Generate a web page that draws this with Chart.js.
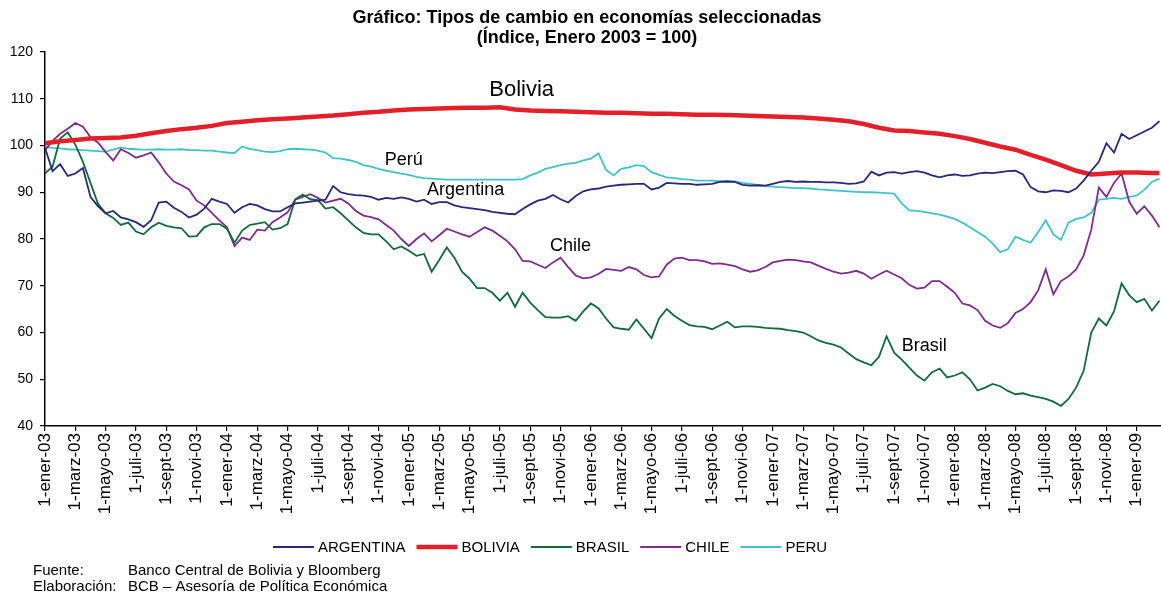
<!DOCTYPE html>
<html>
<head>
<meta charset="utf-8">
<script src="https://cdn.jsdelivr.net/npm/chart.js@4.4.1/dist/chart.umd.min.js"></script>
<style>
  body { margin: 0; background: #fff; }
  canvas { display: block; }
</style>
</head>
<body>
<canvas id="tcChart" width="1161" height="594"></canvas>
<script>
// x = months since 1-ener-03
const halfMonths = Array.from({ length: 148 }, (_, i) => i / 2);
const months = Array.from({ length: 74 }, (_, i) => i).concat([73.5]);

const monthNames = ['ener', 'febr', 'marz', 'abri', 'mayo', 'juni', 'juli', 'agos', 'sept', 'octu', 'novi', 'dici'];

// valores (cada quincena)
const argentina = [
  99.5, 94.5, 96.0, 93.5, 94.0, 95.2, 89.0, 87.0, 85.5, 86.0,
  84.6, 84.2, 83.6, 82.6, 84.0, 87.8, 88.0, 86.7, 85.8, 84.6,
  85.2, 86.5, 88.6, 88.0, 87.5, 85.6, 86.8, 87.5, 87.2, 86.4,
  85.9, 85.9, 86.8, 87.6, 87.8, 88.0, 88.2, 88.4, 91.3, 90.0,
  89.6, 89.4, 89.3, 89.0, 88.4, 88.8, 88.6, 88.9, 88.6, 88.0,
  88.4, 87.5, 87.9, 87.9, 87.2, 86.8, 86.6, 86.4, 86.2, 85.8,
  85.6, 85.4, 85.3, 86.4, 87.4, 88.2, 88.6, 89.4, 88.5, 87.8,
  89.2, 90.2, 90.6, 90.8, 91.2, 91.4, 91.6, 91.7, 91.8, 91.8,
  90.6, 91.0, 92.0, 91.9, 91.8, 91.8, 91.6, 91.7, 91.8, 92.2,
  92.3, 92.2, 91.6, 91.4, 91.5, 91.4, 91.8, 92.2, 92.4, 92.2,
  92.3, 92.2, 92.2, 92.1, 92.1, 92.0, 91.8, 91.9, 92.3, 94.4,
  93.6, 94.2, 94.3, 94.0, 94.3, 94.5, 94.2, 93.6, 93.2, 93.6,
  93.8, 93.5, 93.6, 94.0, 94.2, 94.1, 94.3, 94.5, 94.6, 93.8,
  91.1, 90.2, 90.0, 90.4, 90.3, 90.0, 90.8, 92.5, 94.6, 96.5,
  100.5, 98.5, 102.5, 101.4, 102.2, 103.0, 103.8, 105.2
];

const brasil = [
  94.0, 95.5, 101.5, 102.8, 100.2, 96.5, 92.0, 87.5, 85.5, 84.5,
  83.0, 83.5, 81.6, 81.0, 82.5, 83.5, 82.8, 82.5, 82.3, 80.5,
  80.6, 82.5, 83.2, 83.2, 82.2, 79.2, 81.8, 83.0, 83.3, 83.6,
  82.0, 82.3, 83.2, 88.5, 89.5, 88.5, 88.3, 86.5, 86.8, 85.5,
  84.0, 82.5, 81.3, 81.0, 81.0, 79.5, 77.8, 78.4, 77.5, 76.4,
  76.8, 73.0, 75.5, 78.2, 76.0, 73.0, 71.5, 69.5, 69.5, 68.5,
  66.8, 68.5, 65.5, 68.5, 66.4, 64.8, 63.3, 63.2, 63.2, 63.5,
  62.5, 64.5, 66.2, 65.2, 63.0, 61.1, 60.8, 60.6, 62.8, 60.8,
  58.8, 63.0, 65.0, 63.6, 62.5, 61.6, 61.3, 61.2, 60.7, 61.5,
  62.3, 61.1, 61.3, 61.3, 61.2, 61.0, 60.9, 60.8, 60.5, 60.3,
  60.0, 59.2, 58.3, 57.8, 57.4, 56.8, 55.5, 54.3, 53.6, 53.0,
  54.8, 59.2, 55.7, 54.2, 52.5, 50.8, 49.7, 51.5, 52.3, 50.4,
  50.8, 51.5, 50.0, 47.6, 48.2, 49.0, 48.5, 47.5, 46.8, 47.0,
  46.5, 46.2, 45.8, 45.2, 44.3, 45.8, 48.2, 51.8, 60.0, 63.0,
  61.5, 64.5, 70.5, 68.0, 66.5, 67.2, 64.7, 66.8
];

const chile = [
  99.0, 101.0, 102.5, 103.6, 104.8, 104.0, 101.8, 100.6, 98.6, 96.8,
  99.2, 98.4, 97.4, 97.9, 98.5, 96.4, 94.0, 92.3, 91.5, 90.6,
  88.2, 87.2, 85.6, 84.0, 82.5, 78.5, 80.3, 79.8, 82.0, 81.8,
  83.6, 84.6, 85.7, 88.4, 89.0, 89.6, 88.8, 87.8, 88.2, 88.6,
  87.6, 86.0, 85.0, 84.7, 84.2, 83.0, 81.8, 80.0, 78.5, 80.0,
  81.2, 79.5, 80.8, 82.2, 81.6, 81.0, 80.5, 81.5, 82.5, 81.8,
  80.7, 79.5, 77.8, 75.3, 75.2, 74.5, 73.8, 75.0, 76.0, 74.0,
  72.2, 71.6, 71.8, 72.5, 73.6, 73.4, 73.2, 74.0, 73.5, 72.3,
  71.8, 72.0, 74.5, 75.8, 76.0, 75.5, 75.5, 75.2, 74.7, 74.8,
  74.5, 74.2, 73.5, 73.0, 73.3, 74.0, 75.0, 75.3, 75.6, 75.5,
  75.2, 75.0, 74.3, 73.6, 73.0, 72.6, 72.8, 73.2, 72.6, 71.5,
  72.4, 73.2, 72.4, 71.6, 70.2, 69.4, 69.6, 71.0, 71.0, 69.8,
  68.5, 66.2, 65.8, 64.8, 62.5, 61.5, 61.0, 62.0, 64.2, 65.0,
  66.5, 69.0, 73.5, 68.2, 71.0, 72.0, 73.5, 76.5, 82.0, 91.0,
  89.0, 92.0, 94.0, 88.0, 85.4, 87.0, 85.0, 82.5
];

const peru = [
  99.7, 99.5, 99.4, 99.2, 99.1, 99.0, 98.9, 98.8, 98.7, 99.1,
  99.6, 99.3, 99.2, 99.1, 99.1, 99.2, 99.1, 99.1, 99.2, 99.0,
  99.0, 98.9, 98.9, 98.7, 98.5, 98.4, 99.8, 99.3, 99.0, 98.7,
  98.6, 98.8, 99.2, 99.3, 99.2, 99.1, 98.9, 98.5, 97.3, 97.2,
  96.9, 96.5, 95.8, 95.5, 95.0, 94.6, 94.3, 94.0, 93.7, 93.3,
  93.0, 92.9, 92.8, 92.7, 92.7, 92.7, 92.7, 92.7, 92.7, 92.7,
  92.7, 92.7, 92.7, 92.8, 93.6, 94.2, 95.0, 95.4, 95.8, 96.1,
  96.3, 96.8, 97.2, 98.3, 94.8, 93.6, 95.0, 95.3, 95.8, 95.6,
  94.3, 93.7, 93.2, 93.0, 92.8, 92.7, 92.5, 92.5, 92.5, 92.4,
  92.4, 92.3, 92.0, 91.8, 91.6, 91.3, 91.2, 91.1, 91.0, 90.9,
  90.9, 90.8, 90.6, 90.5, 90.4, 90.3, 90.2, 90.1, 90.0, 90.0,
  89.9, 89.8, 89.7, 87.6, 86.1, 86.0, 85.8, 85.5, 85.2, 84.8,
  84.3, 83.5, 82.5, 81.5, 80.5, 79.0, 77.2, 77.8, 80.5, 79.8,
  79.2, 81.5, 84.0, 81.0, 79.8, 83.5, 84.3, 84.6, 85.6, 88.4,
  88.6, 88.8, 88.6, 89.0, 89.3, 90.5, 92.2, 92.9
];

// Bolivia, mensual
const bolivia = [
  100.5, 100.9, 101.2, 101.5, 101.6, 101.7, 102.1, 102.6, 103.1, 103.5,
  103.8, 104.2, 104.8, 105.1, 105.4, 105.6, 105.8, 106.0, 106.2, 106.4,
  106.7, 107.0, 107.2, 107.5, 107.7, 107.8, 107.9, 108.0, 108.1, 108.1,
  108.2, 107.7, 107.5, 107.4, 107.3, 107.2, 107.1, 107.0, 107.0, 106.9,
  106.8, 106.8, 106.7, 106.6, 106.6, 106.5, 106.4, 106.3, 106.2, 106.1,
  106.0, 105.8, 105.5, 105.2, 104.6, 103.8, 103.2, 103.1, 102.8, 102.5,
  102.0, 101.4, 100.6, 99.8, 99.1, 98.0, 97.0, 95.8, 94.6, 93.8,
  94.0, 94.2, 94.2, 94.1, 94.1
];

const FONT = '"Liberation Sans", Arial, sans-serif';

const inlineLabels = [
  { text: 'Bolivia', month: 29.3, value: 111.8, size: 22 },
  { text: 'Perú', month: 22.4, value: 96.8, size: 18 },
  { text: 'Argentina', month: 25.2, value: 90.4, size: 18 },
  { text: 'Chile', month: 33.3, value: 78.4, size: 18 },
  { text: 'Brasil', month: 56.5, value: 57.0, size: 18 }
];

function toPoints(xs, ys) {
  return ys.map((v, i) => ({ x: xs[i], y: v }));
}

function monthLabel(m) {
  const yr = 3 + Math.floor(m / 12);
  return '1-' + monthNames[m % 12] + '-' + String(yr).padStart(2, '0');
}

const extraText = {
  id: 'extraText',
  afterDraw(chart) {
    const ctx = chart.ctx;
    const x = chart.scales.x;
    const y = chart.scales.y;
    ctx.save();
    ctx.fillStyle = '#000';

    // titulo
    ctx.textAlign = 'center';
    ctx.textBaseline = 'middle';
    ctx.font = 'bold 18px ' + FONT;
    ctx.fillText('Gráfico: Tipos de cambio en economías seleccionadas', 587, 18);
    ctx.fillText('(Índice, Enero 2003 = 100)', 587, 38);

    // nombres sobre las lineas
    ctx.textAlign = 'left';
    inlineLabels.forEach(l => {
      ctx.font = l.size + 'px ' + FONT;
      ctx.fillText(l.text, x.getPixelForValue(l.month), y.getPixelForValue(l.value));
    });

    // leyenda
    ctx.font = '15px ' + FONT;
    let lx = 273;
    chart.data.datasets.forEach(ds => {
      ctx.strokeStyle = ds.borderColor;
      ctx.lineWidth = ds.borderWidth;
      ctx.beginPath();
      ctx.moveTo(lx, 547);
      ctx.lineTo(lx + 41, 547);
      ctx.stroke();
      ctx.fillText(ds.label, lx + 45, 548);
      lx += 45 + ctx.measureText(ds.label).width + 11;
    });

    // fuente
    ctx.font = '15px ' + FONT;
    ctx.fillText('Fuente:', 33, 571);
    ctx.fillText('Banco Central de Bolivia y Bloomberg', 128, 571);
    ctx.fillText('Elaboración:', 33, 587);
    ctx.fillText('BCB – Asesoría de Política Económica', 128, 587);
    ctx.restore();
  }
};

const ctx = document.getElementById('tcChart').getContext('2d');
new Chart(ctx, {
  type: 'line',
  data: {
    datasets: [
      { label: 'ARGENTINA', data: toPoints(halfMonths, argentina), borderColor: '#262878', borderWidth: 1.8 },
      { label: 'BOLIVIA', data: toPoints(months, bolivia), borderColor: '#e3202a', borderWidth: 4.5 },
      { label: 'BRASIL', data: toPoints(halfMonths, brasil), borderColor: '#126a3a', borderWidth: 1.8 },
      { label: 'CHILE', data: toPoints(halfMonths, chile), borderColor: '#7e2b8b', borderWidth: 1.8 },
      { label: 'PERU', data: toPoints(halfMonths, peru), borderColor: '#3fc3c8', borderWidth: 1.8 }
    ]
  },
  options: {
    responsive: false,
    animation: false,
    devicePixelRatio: 1,
    elements: { point: { radius: 0 }, line: { tension: 0, fill: false } },
    layout: { padding: { top: 52, right: 0, bottom: 78, left: 0 } },
    plugins: {
      legend: { display: false },
      title: { display: false },
      tooltip: { enabled: false }
    },
    scales: {
      x: {
        type: 'linear',
        min: 0,
        max: 73.6,
        afterFit: s => { s.height = 90; },
        grid: { drawOnChartArea: false, drawTicks: true, tickLength: 5, color: '#000', lineWidth: 1.2 },
        border: { color: '#000', width: 1.5 },
        ticks: {
          stepSize: 2,
          includeBounds: false,
          autoSkip: false,
          maxRotation: 90,
          minRotation: 90,
          padding: 2,
          color: '#000',
          font: { family: FONT, size: 17 },
          callback: v => monthLabel(v)
        }
      },
      y: {
        min: 40,
        max: 120,
        afterFit: s => { s.width = 45; },
        grid: { drawOnChartArea: false, drawTicks: true, tickLength: 5, color: '#000', lineWidth: 1.2 },
        border: { color: '#000', width: 1.5 },
        ticks: {
          stepSize: 10,
          padding: 7,
          color: '#000',
          font: { family: FONT, size: 14 }
        }
      }
    }
  },
  plugins: [extraText]
});
</script>
</body>
</html>
